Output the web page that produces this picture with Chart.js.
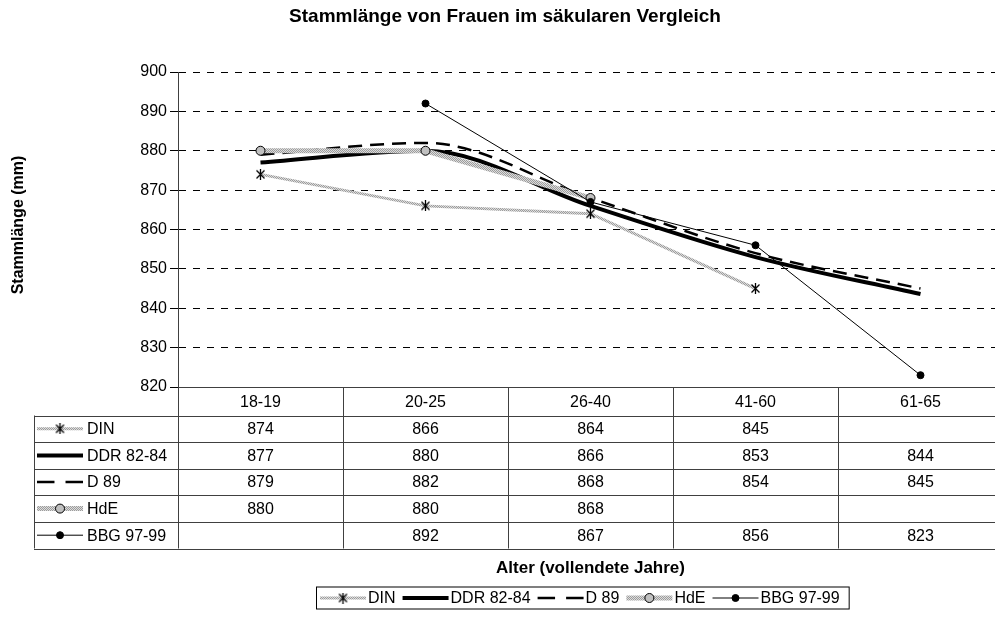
<!DOCTYPE html>
<html>
<head>
<meta charset="utf-8">
<title>Stammlänge von Frauen im säkularen Vergleich</title>
<script src="https://cdn.jsdelivr.net/npm/chart.js@4.4.1/dist/chart.umd.min.js"></script>
<style>
    html, body { margin: 0; padding: 0; overflow: hidden; background: #fff; }
    #wrap { width: 1010px; height: 617px; }
</style>
</head>
<body>
<div id="wrap"><canvas id="chart" width="1010" height="617"></canvas></div>
<script>
// Data
const ageGroups = ['18-19', '20-25', '26-40', '41-60', '61-65'];
const seriesNames = ['DIN', 'DDR 82-84', 'D 89', 'HdE', 'BBG 97-99'];
const dinValues = [874, 866, 864, 845, null];
const ddrValues = [877, 880, 866, 853, 843.6];
const d89Values = [879, 882, 868, 854, 845];
const hdeValues = [880, 880, 868, null, null];
const bbgValues = [null, 892, 867, 856, 823];
const yMin = 820, yMax = 900, yStep = 10;

const FONT = "'Liberation Sans', Arial, sans-serif";
const canvas = document.getElementById('chart');
const ctx = canvas.getContext('2d');

// grey dotted texture like the old Excel pattern lines
function greyPattern() {
    const c = document.createElement('canvas');
    c.width = 2; c.height = 2;
    const g = c.getContext('2d');
    g.fillStyle = '#dcdcdc';
    g.fillRect(0, 0, 2, 2);
    g.fillStyle = '#9c9c9c';
    g.fillRect(0, 0, 1, 1);
    g.fillRect(1, 1, 1, 1);
    return ctx.createPattern(c, 'repeat');
}
const grey = greyPattern();

// Excel style asterisk marker (x plus a vertical bar)
function asterisk() {
    const c = document.createElement('canvas');
    c.width = 11; c.height = 11;
    const g = c.getContext('2d');
    g.strokeStyle = '#000';
    g.lineWidth = 1.3;
    g.beginPath();
    g.moveTo(1.5, 1.5); g.lineTo(9.5, 9.5);
    g.moveTo(9.5, 1.5); g.lineTo(1.5, 9.5);
    g.moveTo(5.5, 0); g.lineTo(5.5, 11);
    g.stroke();
    return c;
}
const star = asterisk();

const datasets = [
    { label: seriesNames[0], data: dinValues, borderColor: grey, borderWidth: 3, tension: 0,
      pointStyle: star, pointRadius: 5, pointBorderColor: '#000', pointBackgroundColor: '#000', pointBorderWidth: 1, order: 5 },
    { label: seriesNames[1], data: ddrValues, borderColor: '#000', borderWidth: 4, cubicInterpolationMode: 'monotone',
      pointRadius: 0, order: 4 },
    { label: seriesNames[2], data: d89Values, borderColor: '#000', borderWidth: 2.5, borderDash: [14, 8], cubicInterpolationMode: 'monotone',
      pointRadius: 0, order: 3 },
    { label: seriesNames[3], data: hdeValues, borderColor: grey, borderWidth: 5, tension: 0,
      pointStyle: 'circle', pointRadius: 4.5, pointBorderColor: '#000', pointBackgroundColor: '#c0c0c0', pointBorderWidth: 1, order: 2 },
    { label: seriesNames[4], data: bbgValues, borderColor: '#000', borderWidth: 1, tension: 0,
      pointStyle: 'circle', pointRadius: 3.5, pointBorderColor: '#000', pointBackgroundColor: '#000', pointBorderWidth: 1, order: 1 }
];

// small line + marker sample, used in the table and the legend
function drawKey(c, ds, x1, x2, y) {
    c.save();
    c.strokeStyle = ds.borderColor;
    c.lineWidth = ds.borderWidth;
    if (ds.borderDash) {
        // two dashes with a gap, like the Excel key
        const d = (x2 - x1) * 0.38;
        c.beginPath();
        c.moveTo(x1, y); c.lineTo(x1 + d, y);
        c.moveTo(x2 - d, y); c.lineTo(x2, y);
        c.stroke();
    } else {
        c.beginPath();
        c.moveTo(x1, y);
        c.lineTo(x2, y);
        c.stroke();
    }
    if (ds.pointRadius > 0) {
        c.fillStyle = ds.pointBackgroundColor;
        c.strokeStyle = ds.pointBorderColor;
        c.lineWidth = ds.pointBorderWidth;
        Chart.helpers.drawPoint(c, { pointStyle: ds.pointStyle, radius: ds.pointRadius, borderWidth: ds.pointBorderWidth, rotation: 0 }, (x1 + x2) / 2, y);
    }
    c.restore();
}

const tablePlugin = {
    id: 'tablePlugin',
    afterDraw(chart) {
        const c = chart.ctx;
        const area = chart.chartArea;
        const xs = chart.scales.x;
        const colW = (area.right - area.left) / ageGroups.length;
        const headH = 28.5, rowH = 26.6;
        const top = area.bottom;
        const tableLeft = 34;
        const bottom = top + headH + rowH * seriesNames.length;
        const midX = (area.left + area.right) / 2;

        c.save();
        // title
        c.fillStyle = '#000';
        c.textAlign = 'center';
        c.textBaseline = 'middle';
        c.font = 'bold 19px ' + FONT;
        c.fillText('Stammlänge von Frauen im säkularen Vergleich', chart.width / 2, 17);

        // y axis title
        c.save();
        c.translate(19, 225);
        c.rotate(-Math.PI / 2);
        c.font = 'bold 16px ' + FONT;
        c.fillText('Stammlänge (mm)', 0, 0);
        c.restore();

        // table grid
        c.strokeStyle = '#404040';
        c.lineWidth = 1;
        c.beginPath();
        c.moveTo(area.left, top + 0.5);
        c.lineTo(chart.width, top + 0.5);
        for (let r = 0; r <= seriesNames.length; r++) {
            const y = Math.round(top + headH + r * rowH) + 0.5;
            c.moveTo(tableLeft, y);
            c.lineTo(chart.width, y);
        }
        c.moveTo(tableLeft + 0.5, top + headH);
        c.lineTo(tableLeft + 0.5, bottom);
        for (let i = 0; i <= ageGroups.length; i++) {
            const x = Math.round(area.left + i * colW) + 0.5;
            c.moveTo(x, i === 0 ? area.top : top);
            c.lineTo(x, bottom);
        }
        c.stroke();

        // header and values
        c.font = '16px ' + FONT;
        c.textAlign = 'center';
        ageGroups.forEach((g, i) => {
            c.fillText(g, xs.getPixelForValue(i), top + headH / 2 + 1);
        });
        chart.data.datasets.forEach((ds, r) => {
            const yMid = top + headH + r * rowH + rowH / 2 + 1;
            ds.data.forEach((v, i) => {
                if (v === null) return;
                c.textAlign = 'center';
                c.fillText(String(Math.round(v)), xs.getPixelForValue(i), yMid);
            });
            drawKey(c, ds, tableLeft + 3, tableLeft + 49, yMid - 1);
            c.textAlign = 'left';
            c.fillStyle = '#000';
            c.fillText(ds.label, tableLeft + 53, yMid);
        });

        // x axis title
        c.textAlign = 'center';
        c.font = 'bold 17px ' + FONT;
        c.fillText('Alter (vollendete Jahre)', midX, bottom + 20);

        // legend
        c.font = '16px ' + FONT;
        const keyW = 46, gapKey = 2, gapItem = 7;
        let total = 6;
        chart.data.datasets.forEach(ds => { total += keyW + gapKey + c.measureText(ds.label).width + gapItem; });
        const lx = Math.round(midX - total / 2) - 8;
        const ly = bottom + 38, lh = 22;
        c.strokeStyle = '#000';
        c.lineWidth = 1;
        c.strokeRect(lx + 0.5, ly + 0.5, total, lh);
        let x = lx + 4;
        chart.data.datasets.forEach(ds => {
            drawKey(c, ds, x, x + keyW, ly + lh / 2 + 0.5);
            x += keyW + gapKey;
            c.textAlign = 'left';
            c.fillStyle = '#000';
            c.fillText(ds.label, x, ly + lh / 2 + 1.5);
            x += c.measureText(ds.label).width + gapItem;
        });
        c.restore();
    }
};

new Chart(ctx, {
    type: 'line',
    data: { labels: ageGroups, datasets: datasets },
    options: {
        responsive: false,
        animation: false,
        layout: { padding: { top: 72, bottom: 230, left: 0, right: 7 } },
        plugins: { legend: { display: false }, tooltip: { enabled: false }, title: { display: false } },
        scales: {
            x: { type: 'category', offset: true, display: false },
            y: {
                min: yMin, max: yMax,
                afterFit(scale) { scale.width = 178; },
                ticks: { stepSize: yStep, color: '#000', font: { family: FONT, size: 16 }, padding: 3 },
                grid: { color: '#000', lineWidth: 1, tickLength: 8, tickColor: '#000', tickBorderDash: [] },
                border: { display: true, color: '#707070', width: 1, dash: [7, 7] }
            }
        }
    },
    plugins: [tablePlugin]
});
</script>
</body>
</html>
